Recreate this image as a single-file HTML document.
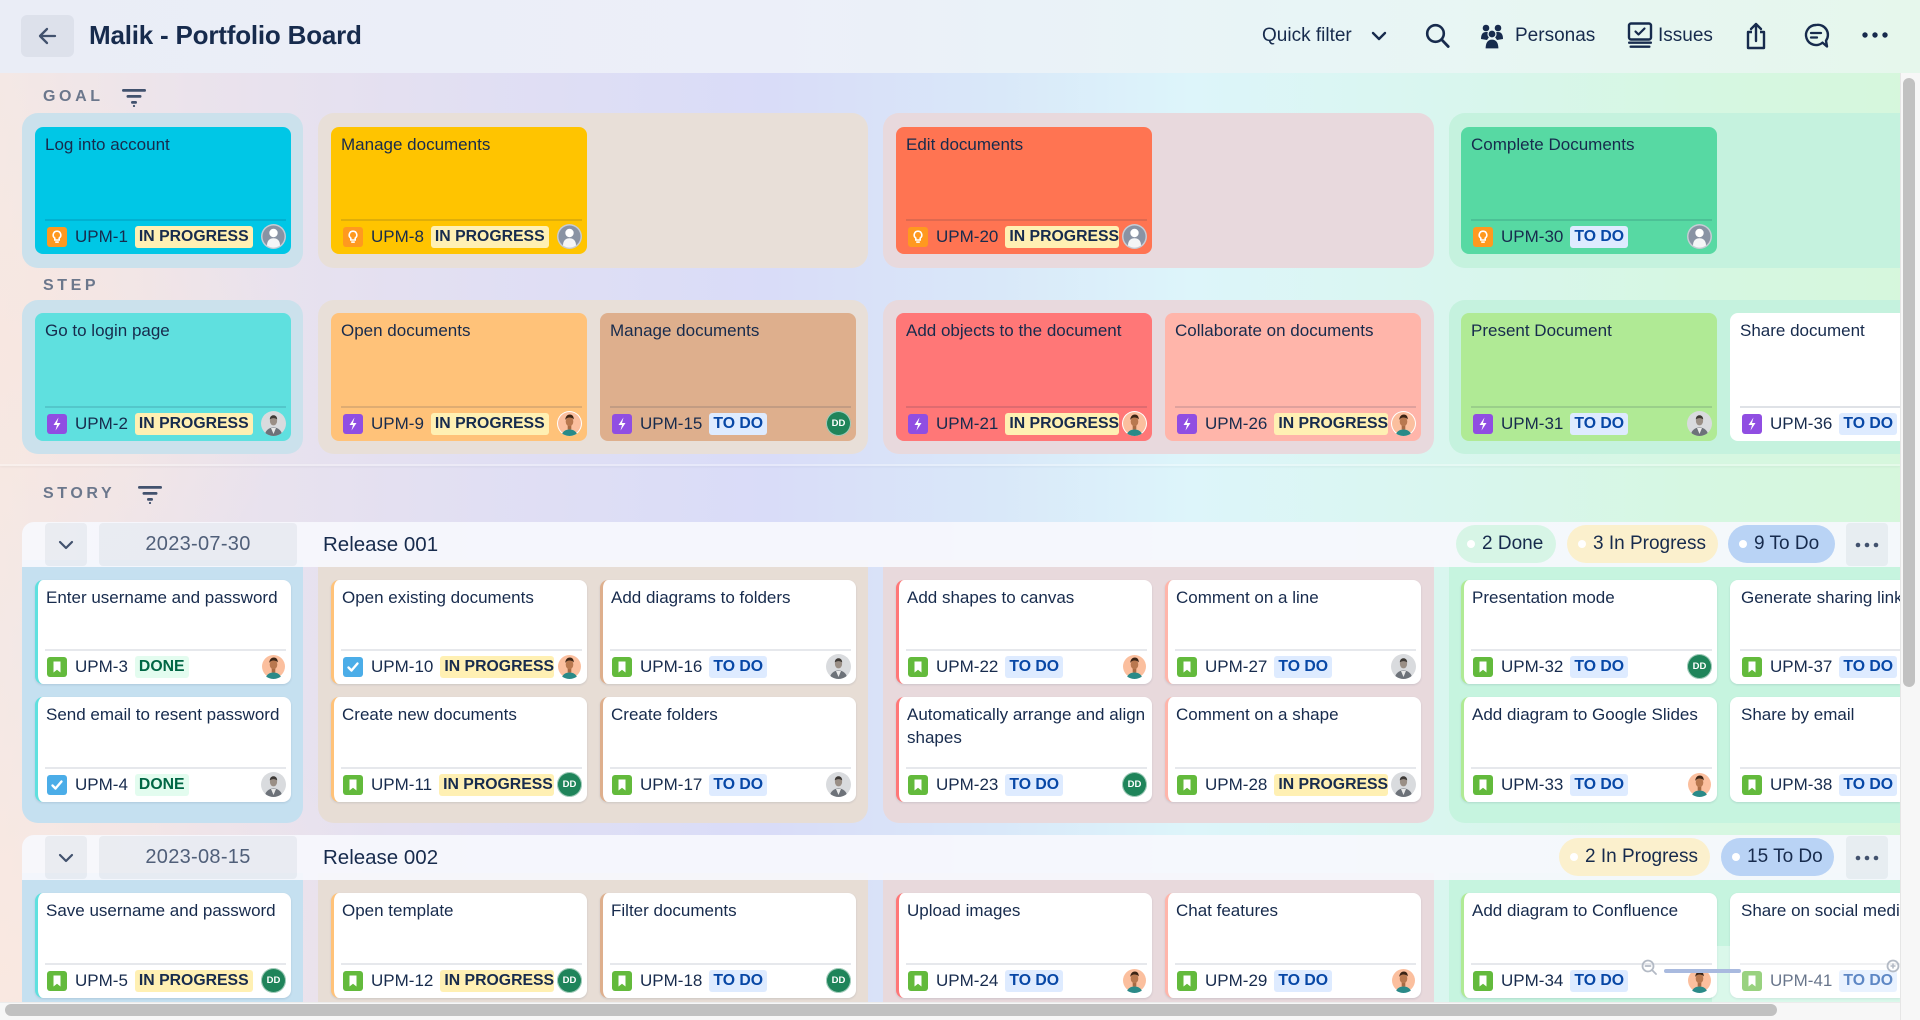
<!DOCTYPE html>
<html><head><meta charset="utf-8">
<style>
*{box-sizing:border-box;margin:0;padding:0}
html,body{width:1920px;height:1020px;overflow:hidden}
body{position:relative;font-family:"Liberation Sans",Arial,sans-serif;color:#172b4d;
background:
 radial-gradient(ellipse 520px 420px at 0% 95%, rgba(250,232,224,0.9), rgba(250,232,224,0) 75%),
 radial-gradient(ellipse 400px 380px at 0% 35%, rgba(248,231,224,0.85), rgba(248,231,224,0) 75%),
 linear-gradient(90deg,#f4e8e5 0%,#ebe3ec 10%,#e1dff3 25%,#d9dcf8 40%,#d9e8f9 52%,#ddf5fa 62%,#d9f6ef 75%,#d6f7e2 88%,#d6f7dc 100%);}
#hdr{position:absolute;left:0;top:0;width:1920px;height:73px;background:linear-gradient(90deg,#eaedf6 0%,#eceff9 40%,#e8f5f6 68%,#e6f7ec 100%);z-index:5}
#m{position:absolute;left:0;top:73px;width:1900px;height:929px;overflow:hidden}
#m .in{position:absolute;left:0;top:-73px;width:1900px;height:1002px;overflow:hidden}
.abs{position:absolute}
.lbl{position:absolute;left:43px;font-size:16px;font-weight:bold;letter-spacing:3.6px;color:#6b778c;line-height:20px}
.lane{position:absolute;border-radius:16px}
.card{position:absolute;width:256px;border-radius:8px}
.card .t{position:absolute;left:10px;top:6px;right:5px;font-size:17px;line-height:23px;color:#172b4d}
.card .sep{position:absolute;left:10px;right:5px;bottom:33px;height:2px;background:rgba(9,30,66,0.13)}
.card .f{position:absolute;left:12px;right:5px;bottom:5px;height:25px;display:flex;align-items:center}
.s{background:#fff;border-left:3px solid #fff;box-shadow:0 1px 2px rgba(9,30,66,0.12)}
.s .t{left:8px}.s .sep{left:7px;background:rgba(9,30,66,0.10)}.s .f{left:9px}
.ic{width:20px;height:20px;flex:none;display:block}
.key{margin-left:8px;font-size:17px;color:#172b4d;flex:none;white-space:nowrap}
.loz{margin-left:7px;height:22px;line-height:22px;padding:0 4px;font-weight:bold;font-size:15.8px;white-space:nowrap;overflow:hidden;flex:0 1 auto;min-width:0;border-radius:3px}
.ip{background:#fff0b3;color:#172b4d}
.td{background:#deebff;color:#0747a6}
.dn{background:#e3fcef;color:#006644}
.sp{flex:1 1 0;min-width:0}
.av{width:25px;height:25px;margin-left:3px;flex:none;display:block}
.dd{width:25px;height:25px;margin-left:3px;flex:none;border-radius:50%;background:#1f845a;color:#fff;font-size:9.5px;font-weight:bold;display:flex;align-items:center;justify-content:center;box-shadow:0 0 0 1px rgba(255,255,255,0.6) inset}
.rbar{position:absolute;left:22px;width:1878px;height:45px;background:rgba(246,248,253,0.93);border-radius:12px 0 0 0}
.chev{position:absolute;left:23px;top:1px;width:42px;height:43px;background:rgba(9,30,66,0.05);border-radius:4px}
.date{position:absolute;left:77px;top:1px;width:198px;height:43px;background:rgba(9,30,66,0.05);border-radius:4px;font-size:20px;color:#505f79;text-align:center;line-height:43px;letter-spacing:0.3px}
.rt{position:absolute;left:301px;top:0;line-height:45px;font-size:20.5px;color:#172b4d}
.pill{position:absolute;height:38px;border-radius:19px;display:flex;align-items:center;padding-left:11px;font-size:19px;color:#172b4d;white-space:nowrap}
.pill i{display:block;width:8px;height:8px;border-radius:50%;background:#fff;margin-right:7px}
.more{position:absolute;width:42px;height:43px;background:rgba(9,30,66,0.05);border-radius:4px}
.hi{position:absolute;font-size:19px;line-height:72px;top:0;color:#172b4d}
</style></head><body>
<svg width="0" height="0" style="position:absolute">
<defs>
<clipPath id="cc"><circle cx="12.5" cy="12.5" r="12.5"/></clipPath>
</defs>
<symbol id="ic-story" viewBox="0 0 20 20"><rect width="20" height="20" rx="3" fill="#63ba3c"/><path d="M6.5 4.5h7v11l-3.5-2.8-3.5 2.8z" fill="#fff"/></symbol>
<symbol id="ic-task" viewBox="0 0 20 20"><rect width="20" height="20" rx="3" fill="#4bade8"/><path d="M5.5 10.5l3 3 6-7" stroke="#fff" stroke-width="2.4" fill="none" stroke-linecap="round" stroke-linejoin="round"/></symbol>
<symbol id="ic-epic" viewBox="0 0 20 20"><rect width="20" height="20" rx="3" fill="#904ee2"/><path d="M11.5 3.5L6.5 11h3.5l-1.5 5.5 5-7.5h-3.5z" fill="#fff"/></symbol>
<symbol id="ic-goal" viewBox="0 0 20 20"><rect width="20" height="20" rx="3" fill="#ff991f"/><path d="M10 4.2a3.8 3.8 0 0 0-2.2 6.9V13h4.4v-1.9A3.8 3.8 0 0 0 10 4.2z" fill="none" stroke="#fff" stroke-width="1.6"/><rect x="8.2" y="14.3" width="3.6" height="1.6" fill="#fff"/></symbol>
<symbol id="av-def" viewBox="0 0 25 25"><circle cx="12.5" cy="12.5" r="12.5" fill="#c7ccd5"/><circle cx="12.5" cy="12.5" r="11" fill="#8993a4"/><circle cx="12.5" cy="9" r="4.2" fill="#fff"/><path d="M6 21.5c0-5 2.8-7.2 6.5-7.2s6.5 2.2 6.5 7.2a11 11 0 0 1-13 0z" fill="#f4f5f7"/></symbol>
<symbol id="av-peach" viewBox="0 0 25 25"><g clip-path="url(#cc)"><rect width="25" height="25" fill="#fff"/><circle cx="12.5" cy="12.5" r="11.5" fill="#fbbf9e"/><ellipse cx="12.5" cy="24" rx="7.5" ry="5.5" fill="#2a8a88"/><rect x="10.7" y="13" width="3.6" height="5.5" fill="#a86a44"/><ellipse cx="12.5" cy="10.5" rx="3.8" ry="4.8" fill="#b9784f"/><path d="M8.3 9c0-4 2.6-5.5 4.6-5.5s3.9 1.3 3.9 5c-.9-1.4-2.6-2-4.4-2s-3.2.9-4.1 2.5z" fill="#3b2415"/></g></symbol>
<symbol id="av-photo" viewBox="0 0 25 25"><g clip-path="url(#cc)"><rect width="25" height="25" fill="#d9dbde"/><ellipse cx="12.5" cy="24" rx="8.5" ry="7.5" fill="#6d7279"/><path d="M10 17l2.5 6 2.5-6z" fill="#e8e8e8"/><ellipse cx="12.5" cy="10" rx="3.6" ry="4.4" fill="#9a8f86"/><path d="M8.8 8.5c0-3 1.8-4.3 3.7-4.3s3.7 1.3 3.7 4.3c-1-1-2.3-1.4-3.7-1.4s-2.7.4-3.7 1.4z" fill="#3e3a36"/></g></symbol>
<symbol id="filt" viewBox="0 0 24 18"><rect x="0" y="0" width="24" height="2.8" rx="1.4"/><rect x="4.5" y="6" width="15" height="2.8" rx="1.4"/><rect x="9" y="12" width="6" height="2.8" rx="1.4"/><circle cx="12" cy="17" r="1.1"/></symbol>
</svg>

<div id="hdr">
  <div class="abs" style="left:21px;top:15px;width:53px;height:42px;background:rgba(9,30,66,0.06);border-radius:6px">
    <svg width="53" height="42" viewBox="0 0 53 42"><path d="M34 21H19M26 14l-7 7 7 7" stroke="#42526e" stroke-width="2.3" fill="none" stroke-linecap="round" stroke-linejoin="round"/></svg>
  </div>
  <div class="abs" style="left:89px;top:0;line-height:70px;font-size:26px;font-weight:bold;color:#172b4d;letter-spacing:-0.2px">Malik - Portfolio Board</div>
  <div class="hi" style="left:1262px">Quick filter</div>
  <svg class="abs" style="left:1370px;top:29px" width="18" height="14" viewBox="0 0 18 14"><path d="M3 4l6 6 6-6" stroke="#172b4d" stroke-width="2.4" fill="none" stroke-linecap="round" stroke-linejoin="round"/></svg>
  <svg class="abs" style="left:1424px;top:22px" width="28" height="28" viewBox="0 0 28 28"><circle cx="11.5" cy="11.5" r="8.3" stroke="#172b4d" stroke-width="2.6" fill="none"/><path d="M17.7 17.7l6.5 6.8" stroke="#172b4d" stroke-width="2.8" stroke-linecap="round"/></svg>
  <svg class="abs" style="left:1480px;top:22px" width="24" height="28" viewBox="0 0 24 28"><circle cx="6" cy="6" r="3.3" fill="#172b4d"/><circle cx="18" cy="6" r="3.3" fill="#172b4d"/><path d="M1 17c0-5 2-7 5-7s4 1 4.5 3L7 18z" fill="#172b4d"/><path d="M23 17c0-5-2-7-5-7s-4 1-4.5 3L17 18z" fill="#172b4d"/><circle cx="12" cy="12" r="4" fill="#172b4d" stroke="#e8f4f4" stroke-width="1.2"/><path d="M5 27c0-7 3-10 7-10s7 3 7 10z" fill="#172b4d" stroke="#e8f4f4" stroke-width="1.2"/></svg>
  <div class="hi" style="left:1515px">Personas</div>
  <svg class="abs" style="left:1627px;top:22px" width="26" height="28" viewBox="0 0 26 28"><rect x="2" y="1.5" width="22" height="16" rx="2" stroke="#172b4d" stroke-width="2.4" fill="none"/><path d="M8.5 9.5l3 3 6-6" stroke="#172b4d" stroke-width="2.2" fill="none" stroke-linecap="round" stroke-linejoin="round"/><rect x="1" y="19.5" width="24" height="2.4" rx="1" fill="#172b4d"/><rect x="2.5" y="23.5" width="21" height="2.4" rx="1" fill="#172b4d"/></svg>
  <div class="hi" style="left:1658px">Issues</div>
  <svg class="abs" style="left:1745px;top:21px" width="22" height="30" viewBox="0 0 22 30"><path d="M7 11H3v16h16V11h-4" stroke="#172b4d" stroke-width="2.4" fill="none" stroke-linejoin="round"/><path d="M11 20V3M6 8l5-5 5 5" stroke="#172b4d" stroke-width="2.4" fill="none" stroke-linecap="round" stroke-linejoin="round"/></svg>
  <svg class="abs" style="left:1803px;top:22px" width="28" height="28" viewBox="0 0 28 28"><path d="M13 3a10 10 0 1 0 6.5 17.6l4.5 3.9-1-5.8A10 10 0 0 0 13 3z" stroke="#172b4d" stroke-width="2.4" fill="none" stroke-linejoin="round"/><path d="M8 11h10M8 15.5h6" stroke="#172b4d" stroke-width="2.3" stroke-linecap="round"/></svg>
  <svg class="abs" style="left:1862px;top:31px" width="26" height="8" viewBox="0 0 26 8"><circle cx="3" cy="4" r="2.7" fill="#172b4d"/><circle cx="13" cy="4" r="2.7" fill="#172b4d"/><circle cx="23" cy="4" r="2.7" fill="#172b4d"/></svg>
</div>

<div id="m"><div class="in">

<div class="lbl" style="top:87px">GOAL</div>
<svg class="abs" style="left:122px;top:89px;fill:#42526e" width="24" height="18"><use href="#filt"/></svg>

<div class="lane" style="left:22px;top:113px;width:281px;height:155px;background:#cbe1ec"></div>
<div class="lane" style="left:318px;top:113px;width:550px;height:155px;background:#e8dfd8"></div>
<div class="lane" style="left:883px;top:113px;width:551px;height:155px;background:#e8d9dd"></div>
<div class="lane" style="left:1449px;top:113px;width:451px;height:155px;background:#c5f2de;border-radius:16px 0 0 16px"></div>

<div class="card" style="left:35px;top:127px;height:127px;background:#00c7e6"><div class="t">Log into account</div><div class="sep"></div><div class="f"><svg class="ic"><use href="#ic-goal"/></svg><span class="key">UPM-1</span><span class="loz ip">IN PROGRESS</span><span class="sp"></span><svg class="av"><use href="#av-def"/></svg></div></div>
<div class="card" style="left:331px;top:127px;height:127px;background:#ffc400"><div class="t">Manage documents</div><div class="sep"></div><div class="f"><svg class="ic"><use href="#ic-goal"/></svg><span class="key">UPM-8</span><span class="loz ip">IN PROGRESS</span><span class="sp"></span><svg class="av"><use href="#av-def"/></svg></div></div>
<div class="card" style="left:896px;top:127px;height:127px;background:#ff7452"><div class="t">Edit documents</div><div class="sep"></div><div class="f"><svg class="ic"><use href="#ic-goal"/></svg><span class="key">UPM-20</span><span class="loz ip">IN PROGRESS</span><span class="sp"></span><svg class="av"><use href="#av-def"/></svg></div></div>
<div class="card" style="left:1461px;top:127px;height:127px;background:#57d9a3"><div class="t">Complete Documents</div><div class="sep"></div><div class="f"><svg class="ic"><use href="#ic-goal"/></svg><span class="key">UPM-30</span><span class="loz td">TO DO</span><span class="sp"></span><svg class="av"><use href="#av-def"/></svg></div></div>

<div class="lbl" style="top:276px">STEP</div>

<div class="lane" style="left:22px;top:300px;width:281px;height:154px;background:#cbe1ec"></div>
<div class="lane" style="left:318px;top:300px;width:550px;height:154px;background:#e8dfd8"></div>
<div class="lane" style="left:883px;top:300px;width:551px;height:154px;background:#e8d9dd"></div>
<div class="lane" style="left:1449px;top:300px;width:451px;height:154px;background:#c5f2de;border-radius:16px 0 0 16px"></div>

<div class="card" style="left:35px;top:313px;height:128px;background:#5fe0df"><div class="t">Go to login page</div><div class="sep"></div><div class="f"><svg class="ic"><use href="#ic-epic"/></svg><span class="key">UPM-2</span><span class="loz ip">IN PROGRESS</span><span class="sp"></span><svg class="av"><use href="#av-photo"/></svg></div></div>
<div class="card" style="left:331px;top:313px;height:128px;background:#ffc279"><div class="t">Open documents</div><div class="sep"></div><div class="f"><svg class="ic"><use href="#ic-epic"/></svg><span class="key">UPM-9</span><span class="loz ip">IN PROGRESS</span><span class="sp"></span><svg class="av"><use href="#av-peach"/></svg></div></div>
<div class="card" style="left:600px;top:313px;height:128px;background:#deaf8d"><div class="t">Manage documents</div><div class="sep"></div><div class="f"><svg class="ic"><use href="#ic-epic"/></svg><span class="key">UPM-15</span><span class="loz td">TO DO</span><span class="sp"></span><span class="dd">DD</span></div></div>
<div class="card" style="left:896px;top:313px;height:128px;background:#ff7777"><div class="t">Add objects to the document</div><div class="sep"></div><div class="f"><svg class="ic"><use href="#ic-epic"/></svg><span class="key">UPM-21</span><span class="loz ip">IN PROGRESS</span><span class="sp"></span><svg class="av"><use href="#av-peach"/></svg></div></div>
<div class="card" style="left:1165px;top:313px;height:128px;background:#ffb5aa"><div class="t">Collaborate on documents</div><div class="sep"></div><div class="f"><svg class="ic"><use href="#ic-epic"/></svg><span class="key">UPM-26</span><span class="loz ip">IN PROGRESS</span><span class="sp"></span><svg class="av"><use href="#av-peach"/></svg></div></div>
<div class="card" style="left:1461px;top:313px;height:128px;background:#b0ea95"><div class="t">Present Document</div><div class="sep"></div><div class="f"><svg class="ic"><use href="#ic-epic"/></svg><span class="key">UPM-31</span><span class="loz td">TO DO</span><span class="sp"></span><svg class="av"><use href="#av-photo"/></svg></div></div>
<div class="card" style="left:1730px;top:313px;height:128px;width:170px;border-radius:8px 0 0 8px;background:#ffffff"><div class="t" style="white-space:nowrap;right:0">Share document</div><div class="sep" style="right:0"></div><div class="f" style="right:0;overflow:hidden"><svg class="ic"><use href="#ic-epic"/></svg><span class="key">UPM-36</span><span class="loz td" style="flex:none">TO DO</span></div></div>

<div class="abs" style="left:0;top:464px;width:1900px;height:2px;background:rgba(255,255,255,0.35);box-shadow:0 1px 2px rgba(9,30,66,0.05)"></div>

<div class="lbl" style="top:484px">STORY</div>
<svg class="abs" style="left:138px;top:486px;fill:#42526e" width="24" height="18"><use href="#filt"/></svg>

<!-- Release 001 -->
<div class="lane" style="left:22px;top:560px;width:281px;height:263px;background:#c5e0f0;border-radius:0 0 16px 16px"></div>
<div class="lane" style="left:318px;top:560px;width:550px;height:263px;background:#e7ddd5;border-radius:0 0 16px 16px"></div>
<div class="lane" style="left:883px;top:560px;width:551px;height:263px;background:#e8d9dc;border-radius:0 0 16px 16px"></div>
<div class="lane" style="left:1449px;top:560px;width:451px;height:263px;background:#c6f4df;border-radius:0 0 0 16px"></div>

<div class="rbar" style="top:522px">
  <div class="chev"><svg width="42" height="43" viewBox="0 0 42 43"><path d="M15 19l6 6 6-6" stroke="#42526e" stroke-width="2.2" fill="none" stroke-linecap="round" stroke-linejoin="round"/></svg></div>
  <div class="date">2023-07-30</div>
  <div class="rt">Release 001</div>
</div>
<div class="pill" style="left:1456px;top:525px;width:100px;background:#d7f5e6"><i></i>2 Done</div>
<div class="pill" style="left:1567px;top:525px;width:151px;background:#fbf0cd"><i></i>3 In Progress</div>
<div class="pill" style="left:1728px;top:525px;width:107px;background:#b9d3f5"><i></i>9 To Do</div>
<div class="more" style="left:1846px;top:523px"><svg width="42" height="43" viewBox="0 0 42 43"><circle cx="12" cy="22" r="2.3" fill="#42526e"/><circle cx="21" cy="22" r="2.3" fill="#42526e"/><circle cx="30" cy="22" r="2.3" fill="#42526e"/></svg></div>

<div class="card s" style="left:35px;top:580px;height:104px;border-left-color:#5fe0df"><div class="t">Enter username and password</div><div class="sep"></div><div class="f"><svg class="ic"><use href="#ic-story"/></svg><span class="key">UPM-3</span><span class="loz dn">DONE</span><span class="sp"></span><svg class="av"><use href="#av-peach"/></svg></div></div>
<div class="card s" style="left:35px;top:697px;height:105px;border-left-color:#5fe0df"><div class="t">Send email to resent password</div><div class="sep"></div><div class="f"><svg class="ic"><use href="#ic-task"/></svg><span class="key">UPM-4</span><span class="loz dn">DONE</span><span class="sp"></span><svg class="av"><use href="#av-photo"/></svg></div></div>

<div class="card s" style="left:331px;top:580px;height:104px;border-left-color:#ffc279"><div class="t">Open existing documents</div><div class="sep"></div><div class="f"><svg class="ic"><use href="#ic-task"/></svg><span class="key">UPM-10</span><span class="loz ip">IN PROGRESS</span><span class="sp"></span><svg class="av"><use href="#av-peach"/></svg></div></div>
<div class="card s" style="left:331px;top:697px;height:105px;border-left-color:#ffc279"><div class="t">Create new documents</div><div class="sep"></div><div class="f"><svg class="ic"><use href="#ic-story"/></svg><span class="key">UPM-11</span><span class="loz ip">IN PROGRESS</span><span class="sp"></span><span class="dd">DD</span></div></div>

<div class="card s" style="left:600px;top:580px;height:104px;border-left-color:#deaf8d"><div class="t">Add diagrams to folders</div><div class="sep"></div><div class="f"><svg class="ic"><use href="#ic-story"/></svg><span class="key">UPM-16</span><span class="loz td">TO DO</span><span class="sp"></span><svg class="av"><use href="#av-photo"/></svg></div></div>
<div class="card s" style="left:600px;top:697px;height:105px;border-left-color:#deaf8d"><div class="t">Create folders</div><div class="sep"></div><div class="f"><svg class="ic"><use href="#ic-story"/></svg><span class="key">UPM-17</span><span class="loz td">TO DO</span><span class="sp"></span><svg class="av"><use href="#av-photo"/></svg></div></div>

<div class="card s" style="left:896px;top:580px;height:104px;border-left-color:#ff7777"><div class="t">Add shapes to canvas</div><div class="sep"></div><div class="f"><svg class="ic"><use href="#ic-story"/></svg><span class="key">UPM-22</span><span class="loz td">TO DO</span><span class="sp"></span><svg class="av"><use href="#av-peach"/></svg></div></div>
<div class="card s" style="left:896px;top:697px;height:105px;border-left-color:#ff7777"><div class="t">Automatically arrange and align shapes</div><div class="sep"></div><div class="f"><svg class="ic"><use href="#ic-story"/></svg><span class="key">UPM-23</span><span class="loz td">TO DO</span><span class="sp"></span><span class="dd">DD</span></div></div>

<div class="card s" style="left:1165px;top:580px;height:104px;border-left-color:#ffb5aa"><div class="t">Comment on a line</div><div class="sep"></div><div class="f"><svg class="ic"><use href="#ic-story"/></svg><span class="key">UPM-27</span><span class="loz td">TO DO</span><span class="sp"></span><svg class="av"><use href="#av-photo"/></svg></div></div>
<div class="card s" style="left:1165px;top:697px;height:105px;border-left-color:#ffb5aa"><div class="t">Comment on a shape</div><div class="sep"></div><div class="f"><svg class="ic"><use href="#ic-story"/></svg><span class="key">UPM-28</span><span class="loz ip">IN PROGRESS</span><span class="sp"></span><svg class="av"><use href="#av-photo"/></svg></div></div>

<div class="card s" style="left:1461px;top:580px;height:104px;border-left-color:#b0ea95"><div class="t">Presentation mode</div><div class="sep"></div><div class="f"><svg class="ic"><use href="#ic-story"/></svg><span class="key">UPM-32</span><span class="loz td">TO DO</span><span class="sp"></span><span class="dd">DD</span></div></div>
<div class="card s" style="left:1461px;top:697px;height:105px;border-left-color:#b0ea95"><div class="t">Add diagram to Google Slides</div><div class="sep"></div><div class="f"><svg class="ic"><use href="#ic-story"/></svg><span class="key">UPM-33</span><span class="loz td">TO DO</span><span class="sp"></span><svg class="av"><use href="#av-peach"/></svg></div></div>

<div class="card s" style="left:1730px;top:580px;height:104px;width:170px;border-radius:8px 0 0 8px"><div class="t" style="white-space:nowrap;right:0;overflow:hidden">Generate sharing link</div><div class="sep" style="right:0"></div><div class="f" style="right:0;overflow:hidden"><svg class="ic"><use href="#ic-story"/></svg><span class="key">UPM-37</span><span class="loz td" style="flex:none">TO DO</span></div></div>
<div class="card s" style="left:1730px;top:697px;height:105px;width:170px;border-radius:8px 0 0 8px"><div class="t" style="white-space:nowrap;right:0">Share by email</div><div class="sep" style="right:0"></div><div class="f" style="right:0;overflow:hidden"><svg class="ic"><use href="#ic-story"/></svg><span class="key">UPM-38</span><span class="loz td" style="flex:none">TO DO</span></div></div>

<!-- Release 002 -->
<div class="lane" style="left:22px;top:873px;width:281px;height:129px;background:#c5e0f0;border-radius:0"></div>
<div class="lane" style="left:318px;top:873px;width:550px;height:129px;background:#e7ddd5;border-radius:0"></div>
<div class="lane" style="left:883px;top:873px;width:551px;height:129px;background:#e8d9dc;border-radius:0"></div>
<div class="lane" style="left:1449px;top:873px;width:451px;height:129px;background:#c6f4df;border-radius:0"></div>

<div class="rbar" style="top:835px">
  <div class="chev"><svg width="42" height="43" viewBox="0 0 42 43"><path d="M15 19l6 6 6-6" stroke="#42526e" stroke-width="2.2" fill="none" stroke-linecap="round" stroke-linejoin="round"/></svg></div>
  <div class="date">2023-08-15</div>
  <div class="rt">Release 002</div>
</div>
<div class="pill" style="left:1559px;top:838px;width:151px;background:#fbf0cd"><i></i>2 In Progress</div>
<div class="pill" style="left:1721px;top:838px;width:113px;background:#b9d3f5"><i></i>15 To Do</div>
<div class="more" style="left:1846px;top:836px"><svg width="42" height="43" viewBox="0 0 42 43"><circle cx="12" cy="22" r="2.3" fill="#42526e"/><circle cx="21" cy="22" r="2.3" fill="#42526e"/><circle cx="30" cy="22" r="2.3" fill="#42526e"/></svg></div>

<div class="card s" style="left:35px;top:893px;height:105px;border-left-color:#5fe0df"><div class="t">Save username and password</div><div class="sep"></div><div class="f"><svg class="ic"><use href="#ic-story"/></svg><span class="key">UPM-5</span><span class="loz ip">IN PROGRESS</span><span class="sp"></span><span class="dd">DD</span></div></div>
<div class="card s" style="left:331px;top:893px;height:105px;border-left-color:#ffc279"><div class="t">Open template</div><div class="sep"></div><div class="f"><svg class="ic"><use href="#ic-story"/></svg><span class="key">UPM-12</span><span class="loz ip">IN PROGRESS</span><span class="sp"></span><span class="dd">DD</span></div></div>
<div class="card s" style="left:600px;top:893px;height:105px;border-left-color:#deaf8d"><div class="t">Filter documents</div><div class="sep"></div><div class="f"><svg class="ic"><use href="#ic-story"/></svg><span class="key">UPM-18</span><span class="loz td">TO DO</span><span class="sp"></span><span class="dd">DD</span></div></div>
<div class="card s" style="left:896px;top:893px;height:105px;border-left-color:#ff7777"><div class="t">Upload images</div><div class="sep"></div><div class="f"><svg class="ic"><use href="#ic-story"/></svg><span class="key">UPM-24</span><span class="loz td">TO DO</span><span class="sp"></span><svg class="av"><use href="#av-peach"/></svg></div></div>
<div class="card s" style="left:1165px;top:893px;height:105px;border-left-color:#ffb5aa"><div class="t">Chat features</div><div class="sep"></div><div class="f"><svg class="ic"><use href="#ic-story"/></svg><span class="key">UPM-29</span><span class="loz td">TO DO</span><span class="sp"></span><svg class="av"><use href="#av-peach"/></svg></div></div>
<div class="card s" style="left:1461px;top:893px;height:105px;border-left-color:#b0ea95"><div class="t">Add diagram to Confluence</div><div class="sep"></div><div class="f"><svg class="ic"><use href="#ic-story"/></svg><span class="key">UPM-34</span><span class="loz td">TO DO</span><span class="sp"></span><svg class="av"><use href="#av-peach"/></svg></div></div>
<div class="card s" style="left:1730px;top:893px;height:105px;width:170px;border-radius:8px 0 0 8px"><div class="t" style="white-space:nowrap;right:0;overflow:hidden">Share on social media</div><div class="sep" style="right:0"></div><div class="f" style="right:0;overflow:hidden"><svg class="ic"><use href="#ic-story"/></svg><span class="key">UPM-41</span><span class="loz td" style="flex:none">TO DO</span></div></div>

<div class="abs" style="left:1712px;top:946px;width:188px;height:56px;background:rgba(255,255,255,0.35)"></div>
<svg class="abs" style="left:1640px;top:958px" width="20" height="20" viewBox="0 0 20 20"><circle cx="8" cy="8" r="5.5" stroke="#b3bac5" stroke-width="1.8" fill="none"/><path d="M5.5 8h5M12 12l4 4" stroke="#b3bac5" stroke-width="1.8" stroke-linecap="round"/></svg>
<div class="abs" style="left:1664px;top:969px;width:77px;height:4px;border-radius:2px;background:#a9badf"></div>
<svg class="abs" style="left:1885px;top:958px" width="15" height="20" viewBox="0 0 15 20"><circle cx="8" cy="8" r="5.5" stroke="#b3bac5" stroke-width="1.8" fill="none"/><path d="M5.5 8h5M8 5.5v5" stroke="#b3bac5" stroke-width="1.6"/></svg>

</div></div>

<!-- scrollbars -->
<div class="abs" style="left:1900px;top:73px;width:20px;height:947px;background:#f7f7f7;border-left:1px solid #e6e6e6"></div>
<div class="abs" style="left:1903px;top:78px;width:12px;height:609px;border-radius:6px;background:#c1c1c1"></div>
<div class="abs" style="left:0;top:1002px;width:1900px;height:18px;background:#f7f7f7;border-top:1px solid #ececec"></div>
<div class="abs" style="left:5px;top:1004px;width:1772px;height:12px;border-radius:6px;background:#c1c1c1"></div>
</body></html>
